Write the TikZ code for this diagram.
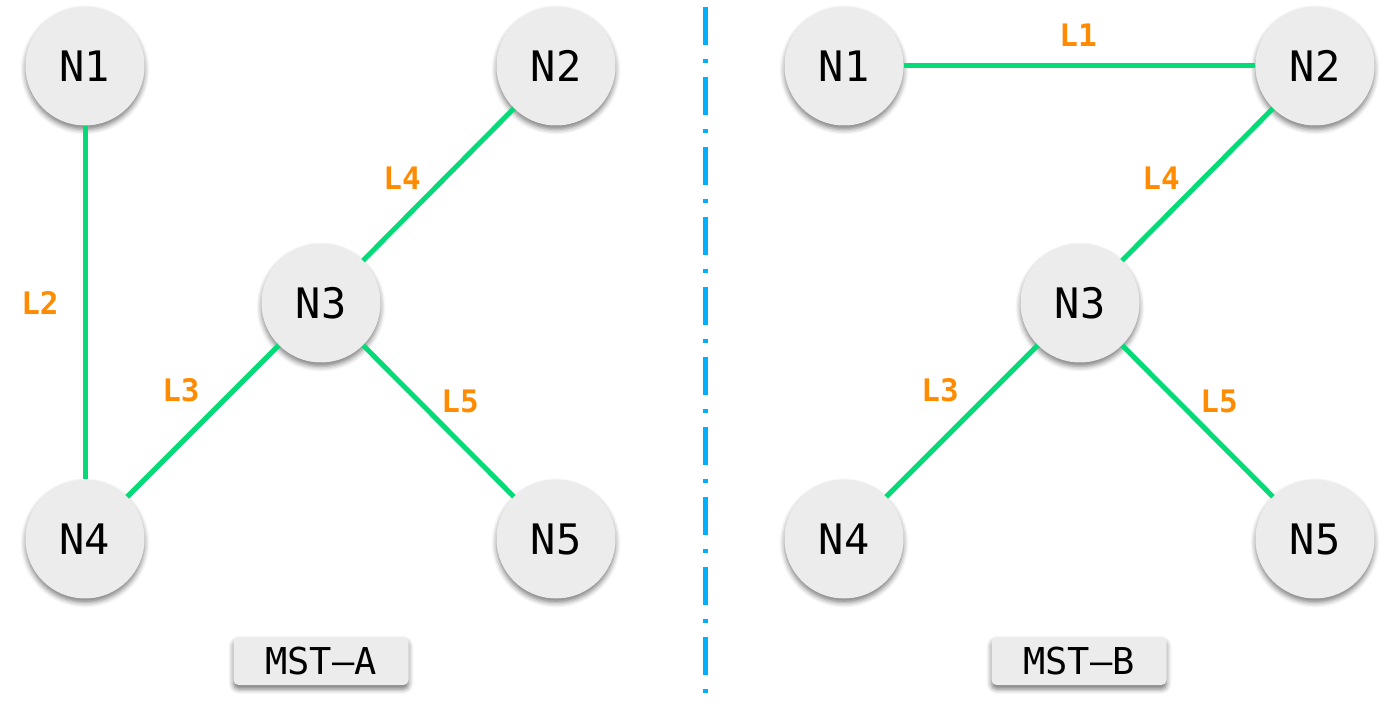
\documentclass[tikz,border=0pt]{standalone}
\usepackage{fontspec}
\setmonofont{DejaVu Sans Mono}
\usetikzlibrary{shadows.blur}
\definecolor{nodefill}{HTML}{ECECEC}
\definecolor{edgegreen}{HTML}{05DA78}
\definecolor{lblorange}{HTML}{FF8C00}
\definecolor{divblue}{HTML}{00B0FF}
\tikzset{
  netnode/.style={circle, fill=nodefill, draw=none, minimum size=119pt, inner sep=0pt,
    font=\fontsize{42}{42}\selectfont\ttfamily, text=black,
    blur shadow={shadow xshift=0pt, shadow yshift=-4pt, shadow blur radius=5pt, shadow opacity=50}},
  link/.style={draw=edgegreen, line width=5pt},
  lbl/.style={text=lblorange, font=\fontsize{31}{31}\selectfont\ttfamily\bfseries, inner sep=0pt},
  caption/.style={rectangle, rounded corners=5pt, fill=nodefill, minimum width=175pt, minimum height=48pt,
    inner sep=0pt, font=\fontsize{37}{37}\selectfont\ttfamily, text=black,
    blur shadow={shadow xshift=0pt, shadow yshift=-4pt, shadow blur radius=5pt, shadow opacity=55}},
  divider/.style={draw=divblue, line width=5pt, dash pattern=on 38pt off 14pt on 4pt off 14pt}
}
\begin{document}
\begin{tikzpicture}[x=1pt,y=-1pt]
\useasboundingbox (0,0) rectangle (1385,719);
\coordinate (dtop) at (705,7);
\coordinate (dbot) at (705,695);
\draw[divider] (dtop) -- (dbot);

% left tree
\node[netnode] (a1) at (85,66) {N1};
\node[netnode] (a2) at (556,66) {N2};
\node[netnode] (a3) at (321,303) {N3};
\node[netnode] (a4) at (85,539) {N4};
\node[netnode] (a5) at (556,539) {N5};
\draw[link] (a1) -- (a4);
\draw[link] (a4) -- (a3);
\draw[link] (a3) -- (a2);
\draw[link] (a3) -- (a5);
\node[lbl] (la2) at (40,303) {L2};
\node[lbl] (la3) at (181,390) {L3};
\node[lbl] (la4) at (402,178) {L4};
\node[lbl] (la5) at (460,401) {L5};
\node[caption] (ca) at (321,661) {MST–A};

% right tree
\node[netnode] (b1) at (844,66) {N1};
\node[netnode] (b2) at (1315,66) {N2};
\node[netnode] (b3) at (1080,303) {N3};
\node[netnode] (b4) at (844,539) {N4};
\node[netnode] (b5) at (1315,539) {N5};
\draw[link] (b1) -- (b2);
\draw[link] (b4) -- (b3);
\draw[link] (b3) -- (b2);
\draw[link] (b3) -- (b5);
\node[lbl] (lb1) at (1078,35) {L1};
\node[lbl] (lb3) at (940,390) {L3};
\node[lbl] (lb4) at (1161,178) {L4};
\node[lbl] (lb5) at (1219,401) {L5};
\node[caption] (cb) at (1079,661) {MST–B};
\end{tikzpicture}
\end{document}
